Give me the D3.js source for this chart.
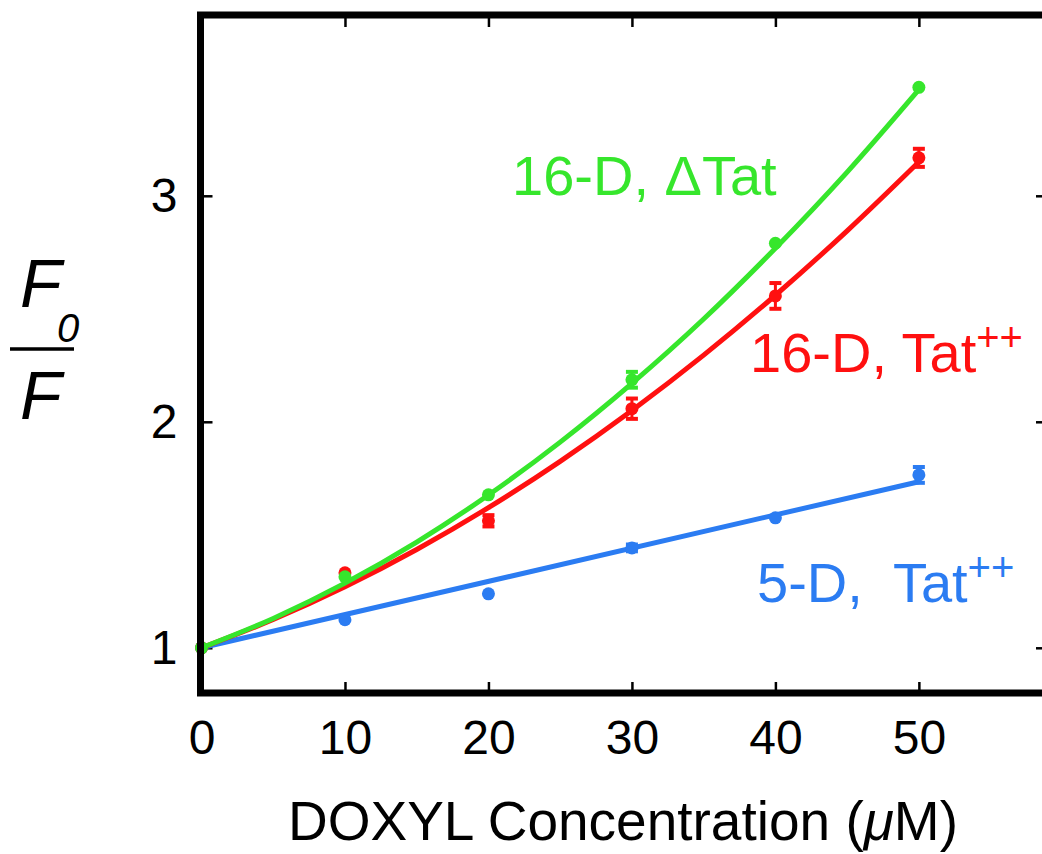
<!DOCTYPE html>
<html lang="en">
<head>
  <meta charset="UTF-8">
  <title>F0/F vs DOXYL concentration</title>
  <script src="https://d3js.org/d3.v7.min.js"></script>
  <style>
    body { margin: 0; background: #fff; }
    svg { display: block; font-family: "Liberation Sans", Arial, sans-serif; }
    .tick text { font-size: 48px; fill: #000; }
    .tick line { stroke: #000; stroke-width: 2.5; }
    .series-label { font-size: 56px; }
  </style>
</head>
<body>
  <script>
    // measured points (x in µM)
    const conc = [0, 10, 20, 30, 40, 50];
    const green16D = [1.00, 1.314, 1.677, 2.186, 2.790, 3.480];
    const greenErr = [0, 0.01, 0.01, 0.035, 0.01, 0.01];
    const red16D = [1.00, 1.332, 1.562, 2.058, 2.557, 3.168];
    const redErr = [0, 0.01, 0.025, 0.045, 0.057, 0.04];
    const blue5D = [1.00, 1.124, 1.239, 1.442, 1.575, 1.765];
    const blueErr = [0, 0.01, 0.01, 0.015, 0.01, 0.035];

    // fitted curves
    const fitX = [0, 5, 10, 15, 20, 25, 30, 35, 40, 45, 50];
    const greenFit = [1.000, 1.130, 1.286, 1.468, 1.676, 1.910, 2.170, 2.455, 2.768, 3.105, 3.470];
    const redFit = [1.000, 1.125, 1.270, 1.435, 1.620, 1.825, 2.050, 2.295, 2.560, 2.845, 3.150];
    const blueFitX = [0, 50];
    const blueFit = [1.000, 1.735];

    const xTicks = [0, 10, 20, 30, 40, 50];
    const yTicks = [1, 2, 3];

    const width = 1042, height = 854;
    const svg = d3.select("body").append("svg")
      .attr("width", width)
      .attr("height", height);

    const x = d3.scaleLinear().domain([0, 59]).range([201.5, 1048]);
    const y = d3.scaleLinear().domain([0.8, 3.8]).range([693, 15]);

    const series = [
      { color: "#2b7cf2", pts: blue5D, err: blueErr, fx: blueFitX, fy: blueFit },
      { color: "#ff1010", pts: red16D, err: redErr, fx: fitX, fy: redFit },
      { color: "#36e62c", pts: green16D, err: greenErr, fx: fitX, fy: greenFit }
    ];

    // axes (inward ticks on all four sides)
    svg.append("g")
      .attr("transform", `translate(0,${y.range()[0]})`)
      .call(d3.axisBottom(x).tickValues(xTicks).tickSize(-11).tickPadding(27))
      .call(g => g.select(".domain").remove());
    svg.append("g")
      .attr("transform", `translate(0,${y.range()[1]})`)
      .call(d3.axisTop(x).tickValues(xTicks).tickSize(-12).tickFormat(""))
      .call(g => g.select(".domain").remove());
    svg.append("g")
      .attr("transform", `translate(${x.range()[0] - 1},0)`)
      .call(d3.axisLeft(y).tickValues(yTicks).tickSize(-12).tickPadding(23).tickFormat(d3.format("d")))
      .call(g => g.select(".domain").remove());
    svg.append("g")
      .attr("transform", `translate(${x.range()[1]},0)`)
      .call(d3.axisRight(y).tickValues(yTicks).tickSize(-12).tickFormat(""))
      .call(g => g.select(".domain").remove());

    svg.selectAll(".tick text").attr("fill", "#000");

    const line = d3.line().x(d => x(d[0])).y(d => y(d[1])).curve(d3.curveMonotoneX);

    series.forEach(s => {
      const g = svg.append("g");
      g.append("path")
        .attr("d", line(s.fx.map((v, i) => [v, s.fy[i]])))
        .attr("fill", "none")
        .attr("stroke", s.color)
        .attr("stroke-width", 5)
        .attr("stroke-linecap", "round");

      const pts = conc.map((c, i) => ({ c, v: s.pts[i], e: s.err[i] }));
      g.selectAll("line.err")
        .data(pts.filter(d => d.e > 0.012))
        .join("line")
        .attr("x1", d => x(d.c)).attr("x2", d => x(d.c))
        .attr("y1", d => y(d.v - d.e)).attr("y2", d => y(d.v + d.e))
        .attr("stroke", s.color).attr("stroke-width", 3);
      ["-", "+"].forEach(sign => {
        g.selectAll(null)
          .data(pts.filter(d => d.e > 0.012))
          .join("line")
          .attr("x1", d => x(d.c) - 6).attr("x2", d => x(d.c) + 6)
          .attr("y1", d => y(sign === "-" ? d.v - d.e : d.v + d.e))
          .attr("y2", d => y(sign === "-" ? d.v - d.e : d.v + d.e))
          .attr("stroke", s.color).attr("stroke-width", 4);
      });
      g.selectAll("circle")
        .data(pts)
        .join("circle")
        .attr("cx", d => x(d.c))
        .attr("cy", d => y(d.v))
        .attr("r", 6.5)
        .attr("fill", s.color);
    });

    // frame
    svg.append("rect")
      .attr("x", x.range()[0] - 1)
      .attr("y", y.range()[1])
      .attr("width", x.range()[1] - x.range()[0] + 1)
      .attr("height", y.range()[0] - y.range()[1])
      .attr("fill", "none")
      .attr("stroke", "#000")
      .attr("stroke-width", 7);

    // series labels
    const lab = (tx, ty, color, main, sup) => {
      const t = svg.append("text").attr("class", "series-label")
        .attr("x", tx).attr("y", ty).attr("fill", color)
        .attr("xml:space", "preserve").text(main);
      if (sup) t.append("tspan").attr("dy", -21).attr("font-size", 40).text(sup);
    };
    lab(512, 195, "#36e62c", "16-D, \u0394Tat");
    lab(750, 372, "#ff1010", "16-D, Tat", "++");
    lab(757, 602, "#2b7cf2", "5-D,  Tat", "++");

    // x-axis title
    const xt = svg.append("text")
      .attr("x", 623).attr("y", 840)
      .attr("text-anchor", "middle")
      .attr("font-size", 55)
      .text("DOXYL Concentration (");
    xt.append("tspan").attr("font-style", "italic").text("\u03bc");
    xt.append("tspan").text("M)");

    // y-axis title: F0 / F
    const yl = svg.append("g").attr("font-style", "italic");
    yl.append("text").attr("x", 20).attr("y", 307).attr("font-size", 68).text("F");
    yl.append("text").attr("x", 57).attr("y", 342).attr("font-size", 40).text("0");
    yl.append("line").attr("x1", 10).attr("x2", 74).attr("y1", 349).attr("y2", 349)
      .attr("stroke", "#000").attr("stroke-width", 3.5);
    yl.append("text").attr("x", 20).attr("y", 419).attr("font-size", 68).text("F");
  </script>
</body>
</html>
